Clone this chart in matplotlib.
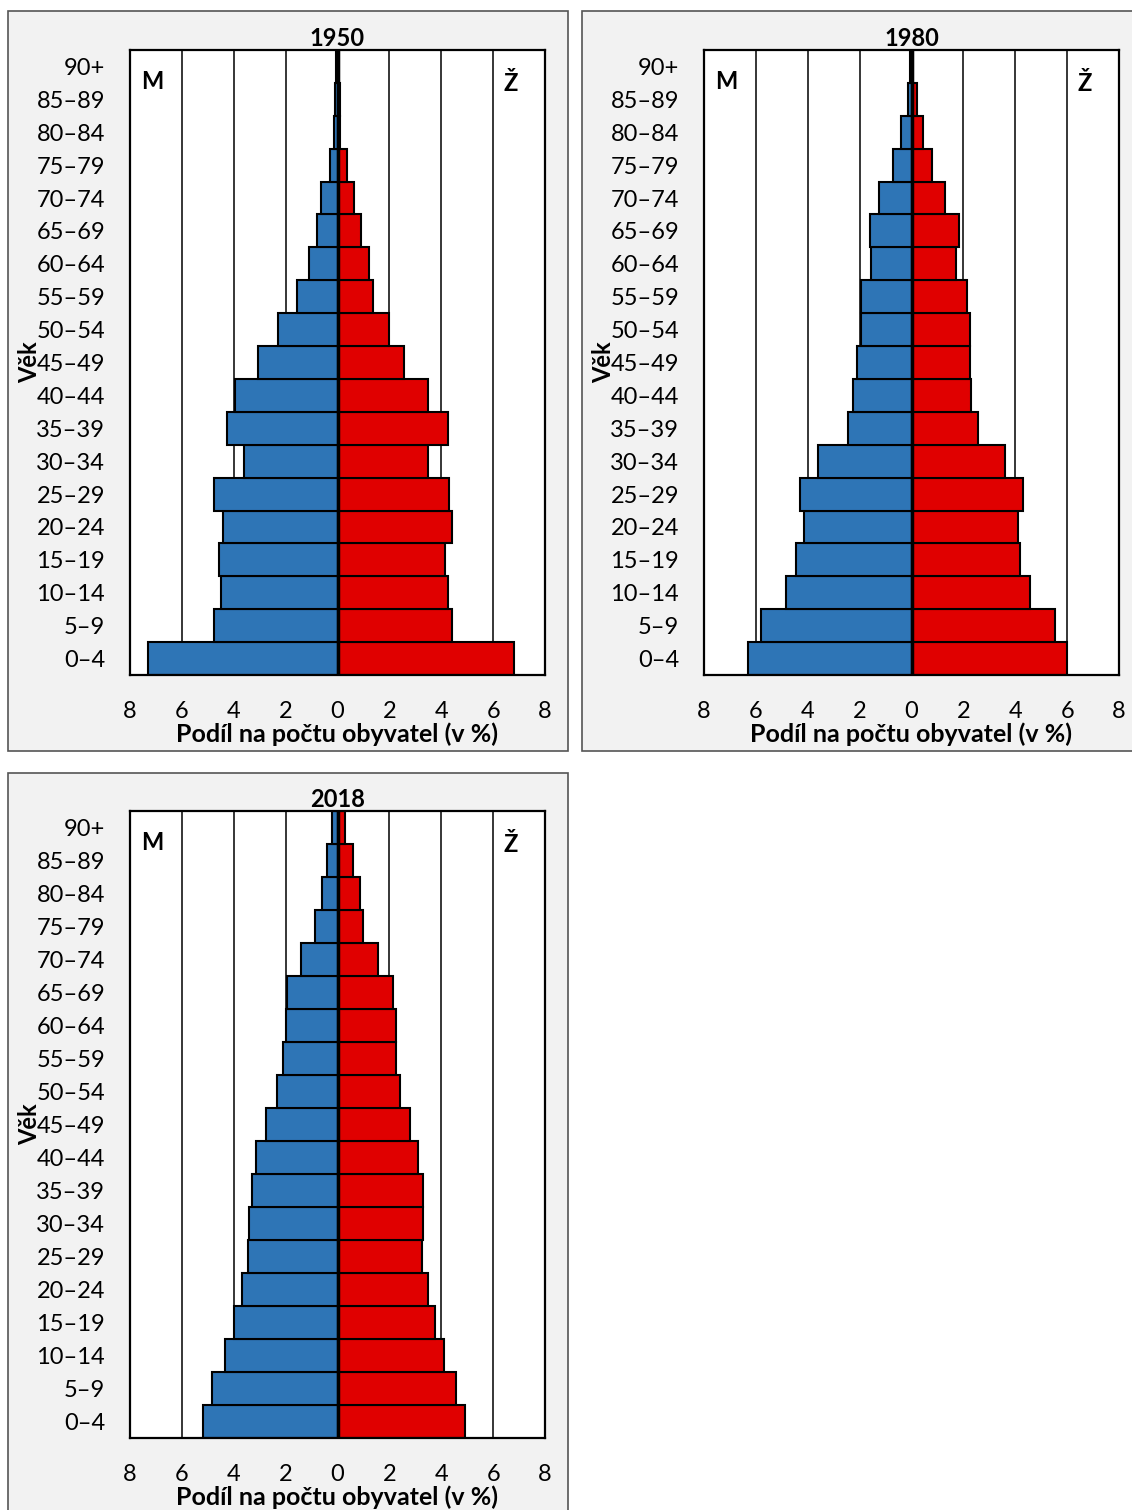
import numpy as np
import matplotlib.pyplot as plt
from matplotlib.patches import Rectangle

plt.rcParams["font.family"] = ["Lato", "DejaVu Sans"]

age_groups = ["0–4", "5–9", "10–14", "15–19", "20–24", "25–29", "30–34", "35–39",
              "40–44", "45–49", "50–54", "55–59", "60–64", "65–69", "70–74",
              "75–79", "80–84", "85–89", "90+"]

# values from oldest (90+) to youngest (0-4), reversed below
male_1950 = [0.05, 0.1, 0.15, 0.3, 0.65, 0.8, 1.1, 1.55, 2.3, 3.05, 3.95, 4.25,
             3.6, 4.75, 4.4, 4.55, 4.5, 4.75, 7.3]
female_1950 = [0.05, 0.08, 0.1, 0.35, 0.65, 0.9, 1.2, 1.35, 2.0, 2.55, 3.5, 4.25,
               3.5, 4.3, 4.4, 4.15, 4.25, 4.4, 6.8]
male_1980 = [0.05, 0.15, 0.4, 0.7, 1.25, 1.6, 1.55, 1.95, 1.95, 2.1, 2.25, 2.45,
             3.6, 4.3, 4.15, 4.45, 4.85, 5.8, 6.3]
female_1980 = [0.05, 0.2, 0.45, 0.8, 1.3, 1.85, 1.7, 2.15, 2.25, 2.25, 2.3, 2.55,
               3.6, 4.3, 4.1, 4.2, 4.55, 5.55, 6.0]
male_2018 = [0.2, 0.4, 0.6, 0.85, 1.4, 1.95, 2.0, 2.1, 2.35, 2.75, 3.15, 3.3,
             3.4, 3.45, 3.7, 4.0, 4.35, 4.85, 5.2]
female_2018 = [0.27, 0.58, 0.85, 1.0, 1.55, 2.15, 2.25, 2.25, 2.4, 2.8, 3.1, 3.3,
               3.3, 3.25, 3.5, 3.75, 4.1, 4.55, 4.9]

years = ["1950", "1980", "2018"]
males = [male_1950, male_1980, male_2018]
females = [female_1950, female_1980, female_2018]

W, H = 1132, 1510
fig = plt.figure(figsize=(W / 100, H / 100), dpi=100)

# panel frames (pixels: x0, y0, x1, y1) and plot areas
frames = [(8, 11, 568, 751), (582, 11, 1145, 751), (8, 773, 568, 1518)]
areas = [(130, 50, 545, 675), (704, 50, 1119, 675), (130, 811, 545, 1438)]


def fx(x):
    return x / W


def fy(y):
    return 1 - y / H


for (x0, y0, x1, y1) in frames:
    fig.patches.append(Rectangle((fx(x0), fy(y1)), fx(x1 - x0), (y1 - y0) / H,
                                 transform=fig.transFigure, facecolor="#f2f2f2",
                                 edgecolor="#555555", linewidth=1.2, zorder=-1))

fs = 17
y = np.arange(len(age_groups))
for year, m, f, (x0, y0, x1, y1) in zip(years, males, females, areas):
    ax = fig.add_axes([fx(x0), fy(y1), fx(x1 - x0), (y1 - y0) / H])
    ax.set_facecolor("white")
    m = np.array(m[::-1])
    f = np.array(f[::-1])
    for gx in [-6, -4, -2, 2, 4, 6]:
        ax.axvline(gx, color="black", lw=1.1, zorder=1)
    ax.barh(y, -m, height=1.0, color="#2e75b6", edgecolor="black", lw=1.5, zorder=2)
    ax.barh(y, f, height=1.0, color="#e00000", edgecolor="black", lw=1.5, zorder=2)
    ax.axvline(0, color="black", lw=2.5, zorder=3)
    ax.set_xlim(-8, 8)
    ax.set_ylim(-0.5, len(age_groups) - 0.5)
    ax.set_xticks(np.arange(-8, 9, 2))
    ax.set_xticklabels([str(abs(v)) for v in range(-8, 9, 2)], fontsize=fs)
    ax.set_yticks(y)
    ax.set_yticklabels(age_groups, fontsize=fs)
    ax.tick_params(axis="both", length=0)
    ax.tick_params(axis="x", pad=19)
    ax.tick_params(axis="y", pad=18)
    for s in ax.spines.values():
        s.set_linewidth(1.6)
        s.set_color("black")
    ax.set_title(year, fontsize=fs, fontweight="bold", pad=3)
    ax.set_xlabel("Podíl na počtu obyvatel (v %)", fontsize=fs + 1,
                  fontweight="bold", labelpad=0)
    ax.set_ylabel("Věk", fontsize=fs, fontweight="bold")
    ax.yaxis.set_label_coords(-0.215, 0.5)
    ax.text(0.053, 0.95, "M", transform=ax.transAxes, fontsize=fs,
            fontweight="bold", ha="center", va="center")
    ax.text(0.917, 0.947, "Ž", transform=ax.transAxes, fontsize=fs,
            fontweight="bold", ha="center", va="center")

fig.savefig("out.png", dpi=100)
